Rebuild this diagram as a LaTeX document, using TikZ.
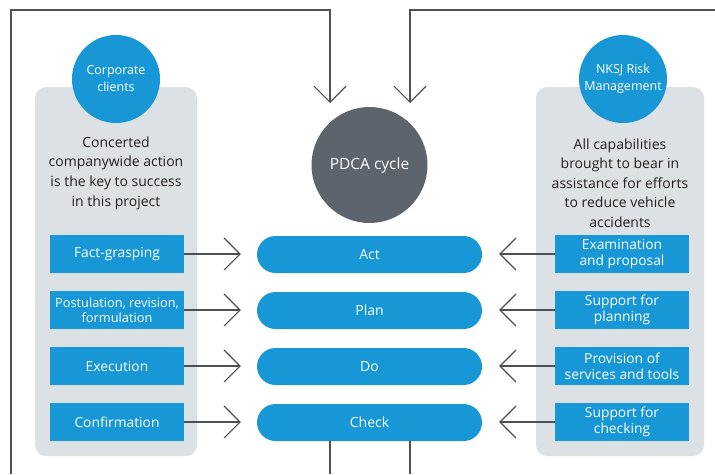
\documentclass[tikz,border=0pt]{standalone}
\usepackage{fontspec}
\setmainfont{Open Sans}
\usetikzlibrary{arrows.meta}
\definecolor{cblue}{HTML}{1797D5}
\definecolor{cpanel}{HTML}{DCE1E6}
\definecolor{cdark}{HTML}{5E646B}
\definecolor{cline}{HTML}{505050}
\definecolor{ctext}{HTML}{231F20}
\tikzset{
  panel/.style={fill=cpanel, rounded corners=11pt, draw=none},
  badge/.style={circle, fill=cblue, minimum size=88pt, inner sep=0pt, text=white, font=\fontsize{12.5}{17}\selectfont, align=center},
  body/.style={text=ctext, font=\fontsize{14}{19.6}\selectfont, align=center},
  sbox/.style={fill=cblue, minimum width=134pt, minimum height=38pt, inner sep=1pt, text=white, font=\fontsize{13.8}{16}\selectfont, align=center},
  pill/.style={fill=cblue, rounded corners=18.5pt, minimum width=225pt, minimum height=37pt, inner sep=0pt, text=white, font=\fontsize{14}{16}\selectfont},
  conn/.style={draw=cline, line width=1.1pt},
  arr/.style={conn, -{Straight Barb[length=16pt, width=32pt, line width=1.1pt]}}
}
\begin{document}
\begin{tikzpicture}[x=1pt, y=-1pt]
\useasboundingbox (0,0) rectangle (715,474);
% panels
\fill[panel] (35,87) rectangle (197,456);
\fill[panel] (536,87) rectangle (704,456);
% badges
\node[badge] (cc) at (116,79) {Corporate\\clients};
\node[badge] (nk) at (623,79) {NKSJ Risk\\Management};
% body texts
\node[body] (lt) at (116,173) {Concerted\\companywide action\\is the key to success\\in this project};
\node[body] (rt) at (620,183) {All capabilities\\brought to bear in\\assistance for efforts\\to reduce vehicle\\accidents};
% PDCA circle
\node[circle, fill=cdark, minimum size=116pt, inner sep=0pt, text=white, font=\fontsize{15.5}{18}\selectfont] (pdca) at (369.5,165) {PDCA cycle};
% pills
\node[pill] (act) at (369.5,254.5) {Act};
\node[pill] (plan) at (369.5,310.5) {Plan};
\node[pill] (do) at (369.5,366.5) {Do};
\node[pill] (chk) at (369.5,422.5) {Check};
% left boxes
\node[sbox] (l1) at (117,254) {Fact-grasping};
\node[sbox, font=\fontsize{12.8}{15.5}\selectfont] (l2) at (117,310) {Postulation, revision,\\formulation};
\node[sbox] (l3) at (117,366) {Execution};
\node[sbox] (l4) at (117,422) {Confirmation};
% right boxes
\node[sbox] (r1) at (622,254) {Examination\\and proposal};
\node[sbox] (r2) at (622,310) {Support for\\planning};
\node[sbox] (r3) at (622,366) {Provision of\\services and tools};
\node[sbox] (r4) at (622,422) {Support for\\checking};
% arrows left
\foreach \a/\b in {l1/act,l2/plan,l3/do,l4/chk}{
  \draw[arr, shorten >=16pt] (\a.east) -- (\a.east -| \b.west);
}
\foreach \a/\b in {r1/act,r2/plan,r3/do,r4/chk}{
  \draw[arr, shorten >=17pt] (\a.west) -- (\a.west -| \b.east);
}
% loop lines
\coordinate (bl) at (11,474);
\coordinate (tl) at (11,10);
\coordinate (tipL) at (330,103);
\coordinate (tr) at (715,10);
\coordinate (tipR) at (410,103);
\coordinate (botL) at (330,474);
\coordinate (botR) at (410,474);
\draw[arr] (bl) -- (tl) -| (tipL);
\draw[arr] (tr) -| (tipR);
\draw[conn] (chk.south -| botL) -- (botL);
\draw[conn] (chk.south -| botR) -- (botR);
\end{tikzpicture}
\end{document}
